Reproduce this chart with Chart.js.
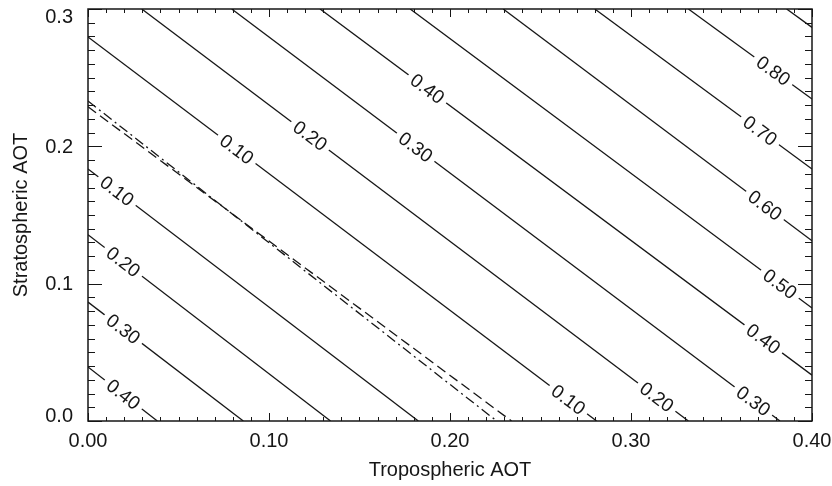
<!DOCTYPE html>
<html>
<head>
<meta charset="utf-8">
<script src="https://cdn.jsdelivr.net/npm/chart.js@4.4.1/dist/chart.umd.min.js"></script>
<style>
  html, body { margin: 0; padding: 0; background: #fff; }
  #wrap { width: 832px; height: 486px; }
</style>
</head>
<body>
<div id="wrap"><canvas id="chart"></canvas></div>
<script>
// ============================================================
// Contour data (in AOT units)
// ============================================================

// Lower-left contours: start on the left edge, end on the bottom edge
const lowerLevels = ["0.40", "0.30", "0.20", "0.10"];
const lowerStart = [[0, 0.0394], [0, 0.0866], [0, 0.1356], [0, 0.1835]];
const lowerEnd = [[0.0383, 0], [0.0858, 0], [0.134, 0], [0.1825, 0]];
const lowerLabelX = [0.0195, 0.0195, 0.0195, 0.016];

// Upper-right contours (two labels each: one in the middle, one near the right/bottom)
const upperLevels = ["0.10", "0.20", "0.30", "0.40", "0.50", "0.60", "0.70", "0.80", "0.90"];
const upperStart = [
	[0, 0.2796], [0.0297, 0.3], [0.0794, 0.3], [0.1282, 0.3], [0.178, 0.3],
	[0.2294, 0.3], [0.28, 0.3], [0.3317, 0.3], [0.386, 0.3],
];
const upperEnd = [
	[0.281, 0], [0.3317, 0], [0.3823, 0], [0.4, 0.0334], [0.4, 0.0823],
	[0.4, 0.1312], [0.4, 0.1835], [0.4, 0.2344], [0.4, 0.2866],
];
const upperLabelX = [0.0822, 0.1227, 0.181, 0.1875, null, null, null, null, null];
const upperLabelX2 = [0.2654, 0.3142, 0.3676, 0.3731, 0.3823, 0.374, 0.3713, 0.3786, null];

// Zero lines (dash-dot and dashed)
const zeroDashDot = [[0, 0.233], [0.2258, 0]];
const zeroDashed = [[0, 0.2288], [0.234, 0]];

// Axis ticks
const xTickStep = 0.1;
const yTickStep = 0.1;

// ============================================================
// Build datasets
// ============================================================
const FONT = "'Liberation Sans', Arial, Helvetica, sans-serif";
const INK = "#161616";

function pt(p) {
	return { x: p[0], y: p[1] };
}

function lineSet(start, end, level, labels, dash) {
	return {
		data: [pt(start), pt(end)],
		showLine: true,
		pointRadius: 0,
		borderColor: INK,
		borderWidth: 1.3,
		borderDash: dash || [],
		levelText: level,
		labelAt: labels.filter((v) => v != null),
	};
}

const datasets = [];
lowerLevels.forEach((lv, i) => {
	datasets.push(lineSet(lowerStart[i], lowerEnd[i], lv, [lowerLabelX[i]]));
});
upperLevels.forEach((lv, i) => {
	datasets.push(lineSet(upperStart[i], upperEnd[i], lv, [upperLabelX[i], upperLabelX2[i]]));
});
datasets.push(lineSet(zeroDashDot[0], zeroDashDot[1], "", [], [10, 4, 2, 4]));
datasets.push(lineSet(zeroDashed[0], zeroDashed[1], "", [], [10, 5]));

// ============================================================
// Plugins: inline contour labels, frame with inward ticks, y labels
// ============================================================
const contourLabels = {
	id: "contourLabels",
	afterDatasetsDraw(chart) {
		const { ctx } = chart;
		const xs = chart.scales.x;
		const ys = chart.scales.y;
		chart.data.datasets.forEach((ds) => {
			if (!ds.labelAt.length) return;
			const a = ds.data[0];
			const b = ds.data[1];
			const ax = xs.getPixelForValue(a.x), ay = ys.getPixelForValue(a.y);
			const bx = xs.getPixelForValue(b.x), by = ys.getPixelForValue(b.y);
			const ang = Math.atan2(by - ay, bx - ax);
			ds.labelAt.forEach((lx) => {
				const t = (lx - a.x) / (b.x - a.x);
				const px = ax + t * (bx - ax);
				const py = ay + t * (by - ay);
				ctx.save();
				ctx.translate(px, py);
				ctx.rotate(ang);
				ctx.font = "19px " + FONT;
				const w = ctx.measureText(ds.levelText).width + 10;
				ctx.fillStyle = "#fff";
				ctx.fillRect(-w / 2, -7, w, 14);
				ctx.fillStyle = INK;
				ctx.textAlign = "center";
				ctx.textBaseline = "middle";
				ctx.fillText(ds.levelText, 0, 1);
				ctx.restore();
			});
		});
	},
};

const frameTicks = {
	id: "frameTicks",
	afterDraw(chart) {
		const { ctx, chartArea: a } = chart;
		const xs = chart.scales.x;
		const ys = chart.scales.y;
		ctx.save();
		ctx.strokeStyle = INK;
		ctx.lineWidth = 1;
		ctx.beginPath();
		for (let i = 0; i <= 40; i++) {
			const px = Math.round(xs.getPixelForValue(i / 100)) + 0.5;
			const len = i % 10 === 0 ? 8 : 4;
			ctx.moveTo(px, a.bottom);
			ctx.lineTo(px, a.bottom - len);
			ctx.moveTo(px, a.top);
			ctx.lineTo(px, a.top + len);
		}
		for (let j = 0; j <= 30; j++) {
			const py = Math.round(ys.getPixelForValue(j / 100)) + 0.5;
			const len = j % 10 === 0 ? 14 : 7;
			ctx.moveTo(a.left, py);
			ctx.lineTo(a.left + len, py);
			ctx.moveTo(a.right, py);
			ctx.lineTo(a.right - len, py);
		}
		ctx.stroke();
		ctx.lineWidth = 1.5;
		ctx.strokeRect(a.left, a.top, a.right - a.left, a.bottom - a.top);

		// y tick labels, kept inside the axis range like the original
		ctx.font = "20px " + FONT;
		ctx.fillStyle = INK;
		ctx.textAlign = "right";
		ctx.textBaseline = "middle";
		ys.ticks.forEach((t) => {
			let py = ys.getPixelForValue(t.value);
			py = Math.min(Math.max(py, a.top + 7), a.bottom - 6);
			ctx.fillText(t.value.toFixed(1), a.left - 15, py + 1);
		});
		ctx.restore();
	},
};

// ============================================================
// Chart
// ============================================================
new Chart(document.getElementById("chart"), {
	type: "scatter",
	data: { datasets: datasets },
	options: {
		responsive: true,
		maintainAspectRatio: false,
		animation: false,
		layout: { padding: { top: 9, right: 20, left: 0, bottom: 0 } },
		plugins: {
			legend: { display: false },
			tooltip: { enabled: false },
		},
		scales: {
			x: {
				type: "linear",
				min: 0,
				max: 0.4,
				ticks: {
					stepSize: xTickStep,
					callback: (v) => v.toFixed(2),
					font: { size: 20, family: FONT },
					color: INK,
					padding: 8,
					maxRotation: 0,
					autoSkip: false,
				},
				grid: { display: false, drawTicks: false },
				border: { display: false },
				title: {
					display: true,
					text: "Tropospheric AOT",
					font: { size: 20, family: FONT },
					color: INK,
					padding: { top: 0, bottom: 4 },
				},
				afterFit: (s) => {
					s.height = 65;
					s.paddingLeft = 0;
					s.paddingRight = 0;
				},
			},
			y: {
				type: "linear",
				min: 0,
				max: 0.3,
				ticks: {
					stepSize: yTickStep,
					display: false,
				},
				grid: { display: false, drawTicks: false },
				border: { display: false },
				title: {
					display: true,
					text: "Stratospheric AOT",
					font: { size: 20, family: FONT },
					color: INK,
					padding: { top: 9, bottom: 0 },
				},
				afterFit: (s) => {
					s.width = 88;
					s.paddingTop = 0;
					s.paddingBottom = 0;
				},
			},
		},
	},
	plugins: [contourLabels, frameTicks],
});
</script>
</body>
</html>
